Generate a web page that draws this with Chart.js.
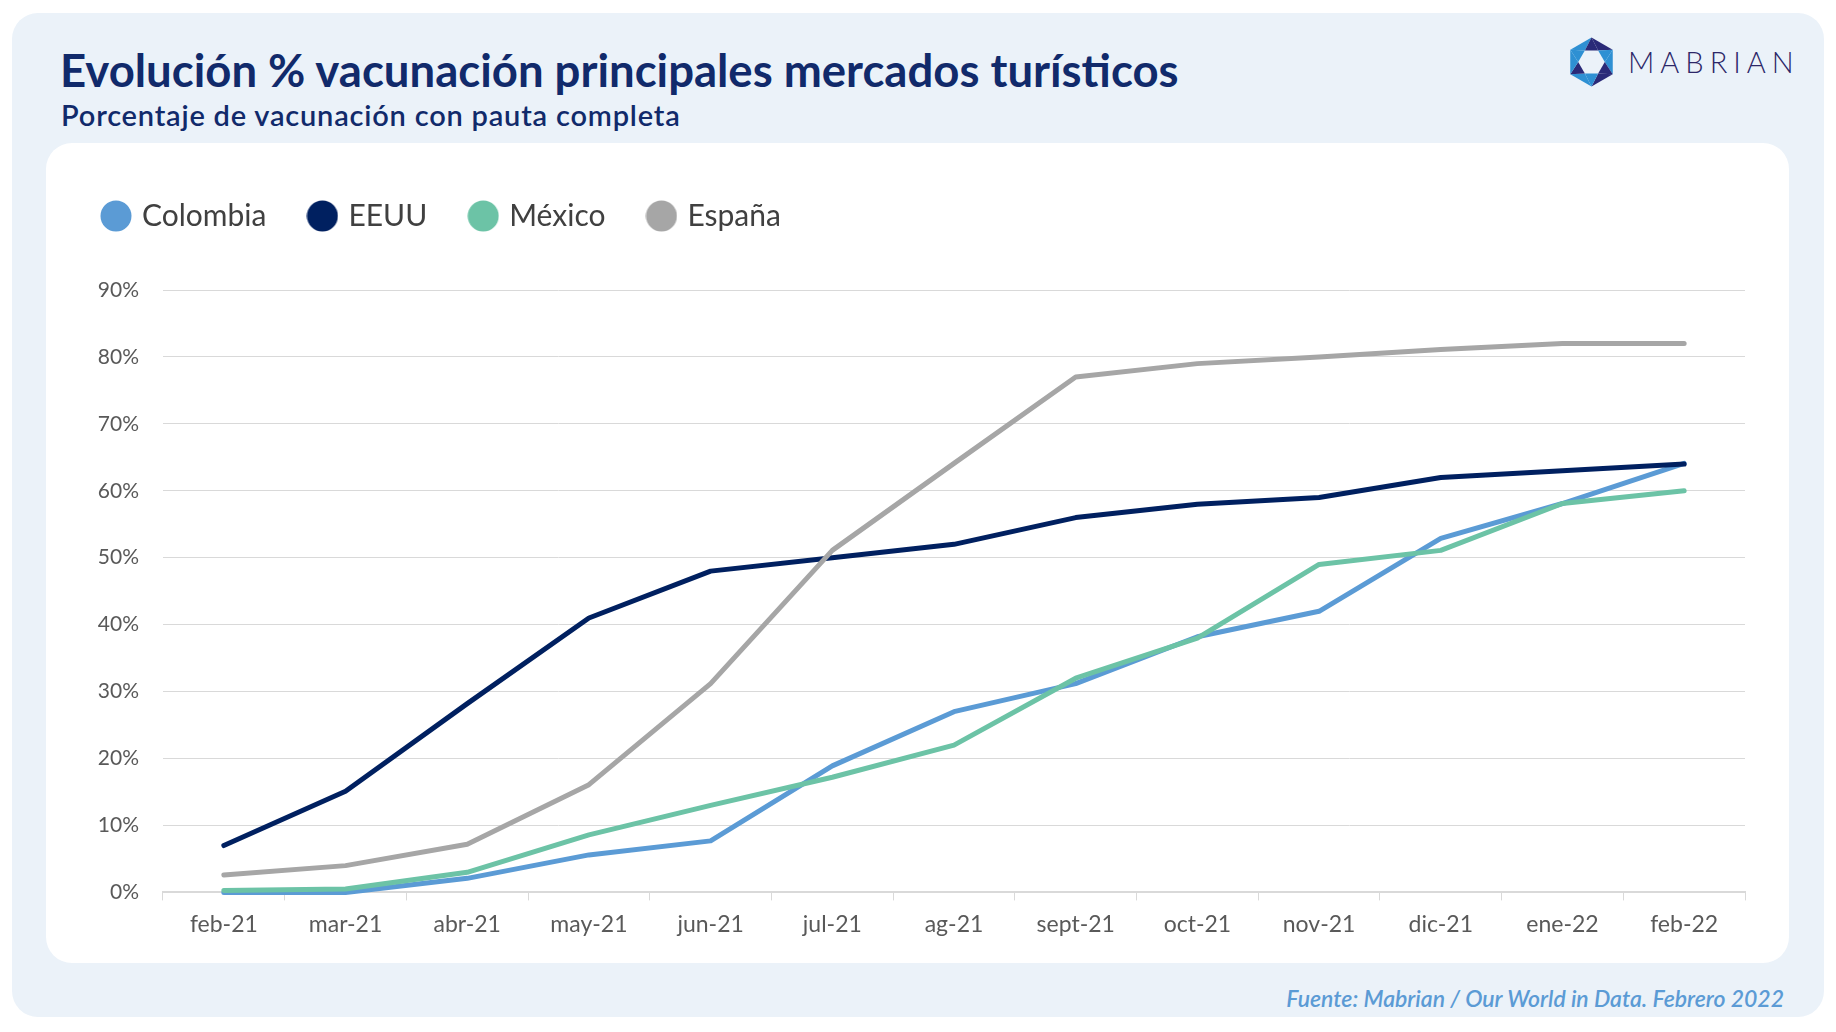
<!DOCTYPE html>
<html lang="es">
<head>
<meta charset="utf-8">
<title>Evolución % vacunación principales mercados turísticos</title>
<script src="https://cdn.jsdelivr.net/npm/chart.js@4.4.1/dist/chart.umd.min.js"></script>
<style>
  html, body {
    margin: 0;
    padding: 0;
    width: 1836px;
    height: 1032px;
    overflow: hidden;
    background: #ffffff;
    font-family: Lato, 'Open Sans', sans-serif;
  }
  .outer {
    position: absolute;
    left: 12px;
    top: 13px;
    width: 1812px;
    height: 1004px;
    border-radius: 26px;
    background: #ebf2f9;
  }
  .title {
    position: absolute;
    left: 60px;
    top: 47px;
    font-size: 45.5px;
    line-height: 1;
    font-weight: 700;
    color: #112a6b;
    white-space: nowrap;
  }
  .subtitle {
    position: absolute;
    left: 61px;
    top: 100px;
    font-size: 29px;
    line-height: 1;
    font-weight: 600;
    letter-spacing: 0.8px;
    color: #112a6b;
    white-space: nowrap;
  }
  .logo {
    position: absolute;
    left: 1567px;
    top: 37px;
  }
  .brand {
    position: absolute;
    left: 1628px;
    top: 47px;
    font-size: 29px;
    line-height: 1;
    font-weight: 300;
    letter-spacing: 6px;
    color: #2c2768;
  }
  .panel {
    position: absolute;
    left: 46px;
    top: 143px;
    width: 1743px;
    height: 820px;
    border-radius: 26px;
    background: #ffffff;
  }
  .source {
    position: absolute;
    right: 52px;
    top: 987px;
    font-size: 23px;
    line-height: 1;
    font-style: italic;
    font-weight: 600;
    color: #5b9bd5;
    white-space: nowrap;
  }
</style>
</head>
<body>
<div class="outer"></div>
<div class="title">Evolución % vacunación principales mercados turísticos</div>
<div class="subtitle">Porcentaje de vacunación con pauta completa</div>

<svg class="logo" width="49" height="50" viewBox="-24.5 -24.5 49 49">
  <polygon points="0,-24.5 21.22,-12.25 6.65,-11.52" fill="#2a2a78"/>
  <polygon points="21.22,-12.25 6.65,-11.52 13.3,0" fill="#2e90d3"/>
  <polygon points="21.22,-12.25 21.22,12.25 13.3,0" fill="#2e90d3"/>
  <polygon points="21.22,12.25 13.3,0 6.65,11.52" fill="#2a2a78"/>
  <polygon points="21.22,12.25 0,24.5 6.65,11.52" fill="#2a2a78"/>
  <polygon points="0,24.5 6.65,11.52 -6.65,11.52" fill="#2e90d3"/>
  <polygon points="0,24.5 -21.22,12.25 -6.65,11.52" fill="#2e90d3"/>
  <polygon points="-21.22,12.25 -6.65,11.52 -13.3,0" fill="#2a2a78"/>
  <polygon points="-21.22,12.25 -21.22,-12.25 -13.3,0" fill="#2e90d3"/>
  <polygon points="-21.22,-12.25 -13.3,0 -6.65,-11.52" fill="#2e90d3"/>
  <polygon points="-21.22,-12.25 0,-24.5 -6.65,-11.52" fill="#2e90d3"/>
  <polygon points="0,-24.5 -6.65,-11.52 6.65,-11.52" fill="#2a2a78"/>
</svg>
<div class="brand">MABRIAN</div>

<div class="panel">
  <canvas id="vacunacion"></canvas>
</div>

<div class="source">Fuente: Mabrian / Our World in Data. Febrero 2022</div>

<script>
// Months on the x axis
const months = ['feb-21', 'mar-21', 'abr-21', 'may-21', 'jun-21', 'jul-21', 'ag-21',
                'sept-21', 'oct-21', 'nov-21', 'dic-21', 'ene-22', 'feb-22'];

// % of population with full vaccination
const colombia = [0, 0, 2.1, 5.6, 7.7, 18.9, 27, 31.2, 38.2, 42, 52.9, 58.1, 64.1];
const eeuu     = [7, 15.1, 28.2, 41, 48, 50, 52, 56, 58, 59, 62, 63, 64];
const mexico   = [0.3, 0.5, 3, 8.6, 13, 17.2, 22, 32, 38, 49, 51.1, 58.1, 60];
const espana   = [2.6, 4, 7.2, 16.1, 31.2, 51.1, 64.1, 77, 79, 80, 81.1, 82, 82];

const seriesNames = ['Colombia', 'EEUU', 'México', 'España'];
const seriesColors = ['#5b9bd5', '#002060', '#6cc3a6', '#a6a6a6'];

// y axis ticks: 0% .. 90%
const yMin = 0;
const yMax = 90;
const yStep = 10;

Chart.defaults.font.family = 'Lato';

// round legend marker, a bit bigger than the legend box
function legendDot(color) {
  const c = document.createElement('canvas');
  c.width = 32;
  c.height = 32;
  const g = c.getContext('2d');
  g.fillStyle = color;
  g.beginPath();
  g.arc(16, 16, 15.5, 0, Math.PI * 2);
  g.fill();
  return c;
}

// add some room between the legend and the plot
const legendGap = {
  id: 'legendGap',
  beforeInit(chart) {
    if (!chart.legend) return;
    const fitLegend = chart.legend.fit;
    chart.legend.fit = function fit() {
      fitLegend.bind(chart.legend)();
      this.height += 49;
    };
  }
};

function makeSeries(name, values, idx) {
  return {
    label: name,
    data: values,
    borderColor: seriesColors[idx],
    backgroundColor: seriesColors[idx],
    borderWidth: 5,
    borderCapStyle: 'round',
    borderJoinStyle: 'round',
    pointRadius: 0,
    pointHoverRadius: 0,
    pointStyle: legendDot(seriesColors[idx]),
    tension: 0,
    fill: false,
    clip: false,
    order: 4 - idx   // later series drawn on top, like the original
  };
}

const canvas = document.getElementById('vacunacion');

new Chart(canvas.getContext('2d'), {
  type: 'line',
  data: {
    labels: months,
    datasets: [
      makeSeries(seriesNames[0], colombia, 0),
      makeSeries(seriesNames[1], eeuu, 1),
      makeSeries(seriesNames[2], mexico, 2),
      makeSeries(seriesNames[3], espana, 3)
    ]
  },
  options: {
    responsive: true,
    maintainAspectRatio: false,
    animation: false,
    layout: {
      padding: { top: 13, left: 14, right: 44, bottom: 15 }
    },
    plugins: {
      legend: {
        display: true,
        position: 'top',
        align: 'start',
        labels: {
          usePointStyle: true,
          boxHeight: 22,
          boxWidth: 22,
          padding: 45,
          color: '#404040',
          font: { size: 30 },
          sort: (a, b) => a.datasetIndex - b.datasetIndex
        }
      },
      tooltip: { enabled: false }
    },
    scales: {
      x: {
        offset: true,
        grid: {
          display: true,
          offset: true,
          drawOnChartArea: false,
          drawTicks: true,
          tickLength: 8,
          color: '#d9d9d9'
        },
        border: {
          display: true,
          color: '#d9d9d9',
          width: 2
        },
        ticks: {
          color: '#595959',
          padding: 10,
          maxRotation: 0,
          autoSkip: false,
          font: { size: 23 }
        }
      },
      y: {
        min: yMin,
        max: yMax,
        grid: {
          color: '#d9d9d9',
          lineWidth: 1,
          drawTicks: false
        },
        border: { display: false },
        ticks: {
          stepSize: yStep,
          color: '#595959',
          padding: 24,
          font: { size: 21 },
          callback: (v) => v + '%'
        },
        afterFit(scale) {
          scale.width = 103;
        }
      }
    }
  },
  plugins: [legendGap]
});
</script>
</body>
</html>
